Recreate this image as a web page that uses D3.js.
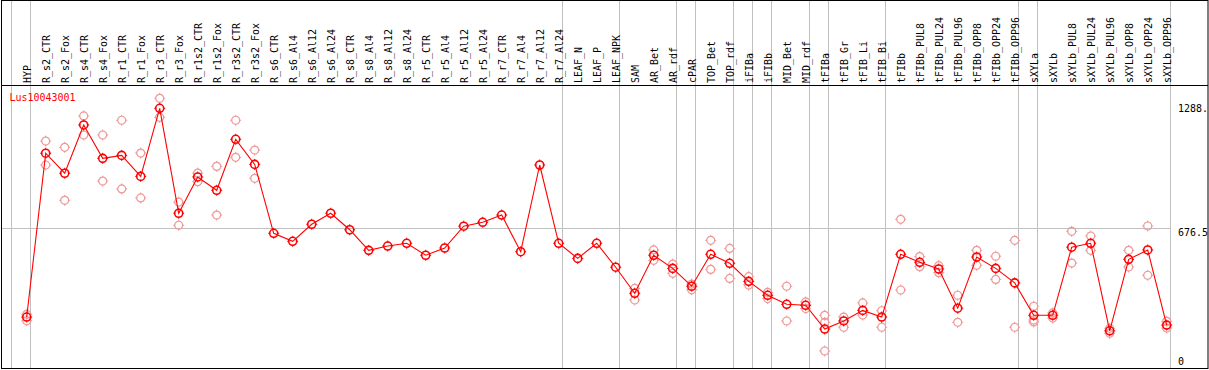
<!DOCTYPE html>
<html><head><meta charset="utf-8">
<script src="https://cdn.jsdelivr.net/npm/d3@7"></script>
<style>body{margin:0;background:#fff}svg{display:block}text{font-family:"DejaVu Sans Mono",monospace}</style>
</head><body><svg id="c" width="1209" height="370"></svg>
<script>
const title = "Lus10043001";
const categories = ["HYP","R_s2_CTR","R_s2_Fox","R_s4_CTR","R_s4_Fox","R_r1_CTR","R_r1_Fox","R_r3_CTR","R_r3_Fox","R_r1s2_CTR","R_r1s2_Fox","R_r3s2_CTR","R_r3s2_Fox","R_s6_CTR","R_s6_Al4","R_s6_Al12","R_s6_Al24","R_s8_CTR","R_s8_Al4","R_s8_Al12","R_s8_Al24","R_r5_CTR","R_r5_Al4","R_r5_Al12","R_r5_Al24","R_r7_CTR","R_r7_Al4","R_r7_Al12","R_r7_Al24","LEAF_N","LEAF_P","LEAF_NPK","SAM","AR_Bet","AR_rdf","cPAR","TOP_Bet","TOP_rdf","iFIBa","iFIBb","MID_Bet","MID_rdf","tFIBa","tFIB_Gr","tFIB_Li","tFIB_Bi","tFIBb","tFIBb_PUL8","tFIBb_PUL24","tFIBb_PUL96","tFIBb_OPP8","tFIBb_OPP24","tFIBb_OPP96","sXYLa","sXYLb","sXYLb_PUL8","sXYLb_PUL24","sXYLb_PUL96","sXYLb_OPP8","sXYLb_OPP24","sXYLb_OPP96"];
const means = [224,1059,957,1203,1033,1048,941,1288,753,938,870,1130,1002,651,610,697,753,669,564,586,600,539,576,687,707,744,557,999,600,523,600,478,345,539,472,381,544,498,406,335,289,284,163,204,258,224,544,503,469,269,530,472,398,233,233,580,600,154,518,566,183];
const replicates = [[238,205],[1121,999],[1089,819],[1249,1152],[1152,917],[1227,877],[1060,831],[1339,1242],[810,692],[958,914],[992,744],[1227,1038],[1075,931],
 [],[],[],[],[],[],[],[],[],[],[],[],[],[],[],[],[],[],[],
 [370,311],[566,513],[494,447],[392,363],[615,467],[574,421],[430,387],[350,318],[381,204],[301,267],[233,197,51],[224,172],[296,234],[256,172],[722,362],[532,481],[486,450],[335,197],[564,488],[534,416],[615,172],[279,209,199],[245,219],[661,499],[637,564],[167,141],[564,479],[688,437],[202,168]];
const groupEnds = ["HYP","R_r7_Al24","LEAF_NPK","AR_rdf","cPAR","TOP_rdf","iFIBa","iFIBb","MID_rdf","tFIBa","tFIB_Bi","tFIBb_OPP96","sXYLa"];
const tickValues = [0, 676.5, 1288];
const tickLabels = ["0", "676.5", "1288."];

const svg = d3.select("#c");
const x = d3.scalePoint().domain(categories).range([26.7, 1166.7]);
const y = d3.scaleLinear().domain([0, 1288]).range([361, 108.3]);
const step = x.step();
const grey = "#c0c0c0";
const FS = 11, SX = 0.906;

// separators
const sepX = [x(categories[0]) - step + 3.5].concat(groupEnds.map(c => x(c) + 3.5));
svg.selectAll("line.sep").data(sepX).enter().append("line")
  .attr("x1", d => Math.round(d) + 0.5).attr("x2", d => Math.round(d) + 0.5)
  .attr("y1", 0).attr("y2", 369).attr("stroke", grey).attr("stroke-width", 1);
// plot right edge
svg.append("line").attr("x1", 1170.5).attr("x2", 1170.5).attr("y1", 0).attr("y2", 369).attr("stroke", grey);
// middle gridline
svg.append("line").attr("x1", 1).attr("x2", 1170).attr("y1", Math.round(y(tickValues[1])) + 0.5).attr("y2", Math.round(y(tickValues[1])) + 0.5).attr("stroke", grey);

// frame
svg.append("rect").attr("x", 1.5).attr("y", 0.5).attr("width", 1206.5).attr("height", 368).attr("fill", "none").attr("stroke", "#000");
svg.append("line").attr("x1", 1).attr("x2", 1208).attr("y1", 85.5).attr("y2", 85.5).attr("stroke", "#000");

// category labels
svg.selectAll("text.cat").data(categories).enter().append("text")
  .attr("transform", d => `translate(${x(d) + 4},83) rotate(-90) scale(${SX},1)`)
  .attr("font-size", FS).attr("fill", "#000").text(d => d);

// title
svg.append("text").attr("transform", `translate(9.5,101) scale(${SX},1)`).attr("font-size", FS).attr("fill", "#ff0000").text(title);

// tick labels
svg.selectAll("text.tick").data(tickValues).enter().append("text")
  .attr("transform", (d, i) => `translate(1178,${y(d) + (i === 1 ? 8 : 4)}) scale(${SX},1)`)
  .attr("font-size", FS).attr("fill", "#000").text((d, i) => tickLabels[i]);

// replicate circles
const repPts = [];
replicates.forEach((arr, i) => arr.forEach(v => repPts.push({c: categories[i], v})));
const mark = (g, color, sw) => {
  g.append("circle").attr("r", 4).attr("fill", "none").attr("stroke", color).attr("stroke-width", sw);
  g.append("path").attr("d", "M0,-5.5V-3.5M0,3.5V5.5M-5.5,0H-3.5M3.5,0H5.5").attr("stroke", color).attr("stroke-width", 1);
};
svg.selectAll("g.rep").data(repPts).enter().append("g")
  .attr("transform", d => `translate(${x(d.c)},${y(d.v)})`)
  .each(function () { mark(d3.select(this), "#ee9999", 1.2); });

// mean line
const pts = categories.map((c, i) => ({c, v: means[i]}));
svg.append("path").datum(pts)
  .attr("d", d3.line().x(d => x(d.c)).y(d => y(d.v)))
  .attr("fill", "none").attr("stroke", "#ff0000").attr("stroke-width", 1.1);
svg.selectAll("g.mean").data(pts).enter().append("g")
  .attr("transform", d => `translate(${x(d.c)},${y(d.v)})`)
  .each(function () { mark(d3.select(this), "#ff0000", 1.6); });
</script></body></html>
